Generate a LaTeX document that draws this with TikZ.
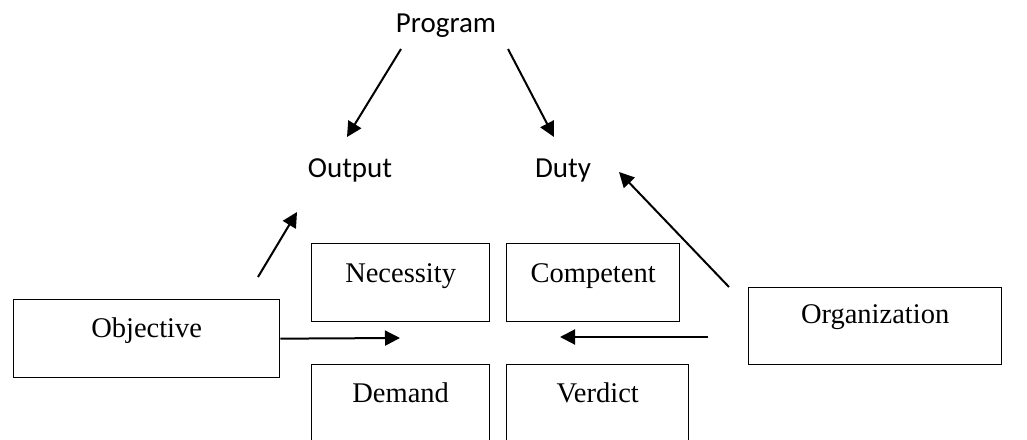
\documentclass[tikz,border=0pt]{standalone}
\usepackage{fontspec}
\setmainfont{Liberation Serif}
\newfontfamily\calibrifont{Carlito}
\usepackage{tikz}
\usetikzlibrary{arrows.meta}
\usetikzlibrary{positioning}
\tikzstyle{word_label}=[inner sep=0pt, font=\calibrifont\fontsize{29}{34}\selectfont]
\tikzstyle{box_text}=[draw=black, line width=1.3pt, inner sep=0pt, anchor=north west,
    font=\fontsize{28.5}{34}\selectfont]
\tikzstyle{flow}=[line width=2pt, -{Triangle[length=15pt,width=15pt]}]

\begin{document}
\begin{tikzpicture}[x=1pt, y=-1pt]
          \useasboundingbox (0,0) rectangle (1027,439);
          % top labels
          \node[word_label, anchor=base] (program) at (446,32) {Program};
          \node[word_label, anchor=base] (output) at (350,177) {Output};
          \node[word_label, anchor=base] (duty) at (563,177) {Duty};
          % boxes
          \node[box_text, minimum width=266pt, text height=38pt, text depth=40pt] (objective) at (13,299) {Objective};
          \node[box_text, minimum width=178pt, text height=39pt, text depth=39pt] (necessity) at (311,243) {Necessity};
          \node[box_text, minimum width=173pt, text height=39pt, text depth=39pt] (competent) at (506,243) {Competent};
          \node[box_text, minimum width=178pt, text height=38pt, text depth=80pt] (demand) at (311,364) {Demand};
          \node[box_text, minimum width=182pt, text height=38pt, text depth=80pt] (verdict) at (506,364) {Verdict};
          \node[box_text, minimum width=253pt, text height=36pt, text depth=41pt] (organization) at (748,287) {Organization};
          % free ends
          \coordinate (prog_left) at (401,49);
          \coordinate (out_tip) at (347,137);
          \coordinate (prog_right) at (508,49);
          \coordinate (duty_tip) at (554,137);
          \coordinate (obj_up) at (258,277);
          \coordinate (out_low) at (297,212);
          \coordinate (mid_left) at (400,338);
          \coordinate (org_left) at (708,337);
          \coordinate (mid_right) at (560,337);
          \coordinate (org_up) at (729,287);
          \coordinate (duty_low) at (619,172);
          \draw[flow](prog_left) -- (out_tip);
          \draw[flow](prog_right) -- (duty_tip);
          \draw[flow](obj_up) -- (out_low);
          \draw[flow](objective.east) -- (mid_left);
          \draw[flow](org_left) -- (mid_right);
          \draw[flow](org_up) -- (duty_low);
        \end{tikzpicture}
\end{document}
